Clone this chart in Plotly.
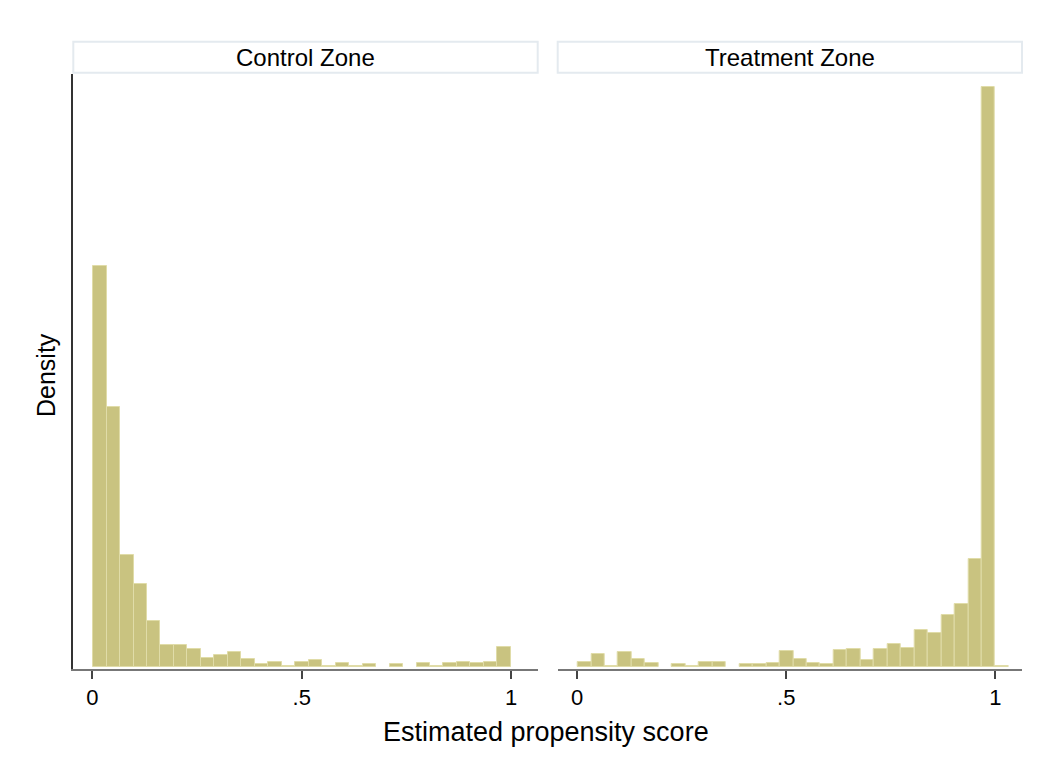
import plotly.graph_objects as go

# Histogram bins (common to both panels)
bin_start = 0.0015
bin_width = 0.0322
n_bins = 32

panels = ["Control Zone", "Treatment Zone"]

control_density = [11.52, 7.47, 3.23, 2.38, 1.31, 0.64, 0.64, 0.53, 0.26, 0.35,
                   0.43, 0.22, 0.09, 0.14, 0.03, 0.14, 0.20, 0.03, 0.11, 0.03,
                   0.09, 0.00, 0.09, 0.00, 0.11, 0.03, 0.11, 0.14, 0.11, 0.14,
                   0.57, 0.00]

treatment_density = [0.14, 0.36, 0.03, 0.42, 0.23, 0.11, 0.00, 0.09, 0.03, 0.14,
                     0.14, 0.00, 0.09, 0.09, 0.11, 0.45, 0.23, 0.12, 0.08, 0.48,
                     0.53, 0.21, 0.53, 0.65, 0.55, 1.07, 0.99, 1.49, 1.82, 3.11,
                     16.66, 0.03]

tick_vals = [0, 0.5, 1]
tick_text = ["0", ".5", "1"]

x_title = "Estimated propensity score"
y_title = "Density"

centers = [bin_start + (i + 0.5) * bin_width for i in range(n_bins)]

FILL = "rgb(201,195,128)"
EDGE = "rgb(224,220,168)"
FONT = "Liberation Sans, Arial, sans-serif"

fig = go.Figure()
for k, dens in enumerate([control_density, treatment_density]):
    fig.add_trace(go.Bar(
        x=centers, y=dens, width=[bin_width] * n_bins,
        marker=dict(color=FILL,
                    line=dict(color=EDGE, width=[1 if d > 0 else 0 for d in dens])),
        xaxis="x" if k == 0 else "x2", yaxis="y" if k == 0 else "y2",
        showlegend=False, hoverinfo="x+y",
    ))

OFF = 8  # page body margin
W, H = 1047 - OFF, 768 - OFF
L, T = 73 - OFF, 74 - OFF
plot_w = 1022 - 73
plot_h = 669 - 74
R = W - L - plot_w
B = H - T - plot_h
left_dom = [0, (537.7 - 73) / plot_w]
right_dom = [(557.7 - 73) / plot_w, 1]

xr = [-0.0465, 1.0638]
yr = [-0.057, 17.04]

axis_common = dict(range=xr, tickvals=tick_vals, ticktext=tick_text,
                   ticks="outside", ticklen=8, tickwidth=1.5, tickcolor="#444",
                   showline=True, linecolor="#777", linewidth=2,
                   showgrid=False, zeroline=False,
                   tickfont=dict(family=FONT, size=22, color="#000"))

fig.update_layout(
    width=W, height=H,
    margin=dict(l=L, r=R, t=T, b=B),
    paper_bgcolor="white", plot_bgcolor="white",
    bargap=0,
    xaxis=dict(domain=left_dom, anchor="y", **axis_common),
    xaxis2=dict(domain=right_dom, anchor="y2", **axis_common),
    yaxis=dict(range=yr, domain=[0, 1], anchor="x", showticklabels=False,
               ticks="", showgrid=False, zeroline=False,
               showline=True, linecolor="#333", linewidth=2),
    yaxis2=dict(range=yr, domain=[0, 1], anchor="x2", showticklabels=False,
                ticks="", showgrid=False, zeroline=False, showline=False),
)

def py(ypix):
    return (669 - ypix) / plot_h

def px(xpix):
    return (xpix - 73) / plot_w

shapes = []
annotations = []
strip_x = [(73.3, 537.7), (557.7, 1022)]
for (x0, x1), name in zip(strip_x, panels):
    shapes.append(dict(type="rect", xref="paper", yref="paper",
                       x0=px(x0), x1=px(x1), y0=py(72.7), y1=py(41.7),
                       line=dict(color="#e4eaef", width=2), fillcolor="white"))
    annotations.append(dict(text=name, xref="paper", yref="paper",
                            x=px((x0 + x1) / 2), y=py(57), showarrow=False,
                            xanchor="center", yanchor="middle",
                            font=dict(family=FONT, size=24, color="#000")))

annotations.append(dict(text=x_title, xref="paper", yref="paper",
                        x=px(546), y=py(732), showarrow=False,
                        xanchor="center", yanchor="middle",
                        font=dict(family=FONT, size=27, color="#000")))
annotations.append(dict(text=y_title, xref="paper", yref="paper",
                        x=px(46), y=py(375), showarrow=False, textangle=-90,
                        xanchor="center", yanchor="middle",
                        font=dict(family=FONT, size=25, color="#000")))

fig.update_layout(shapes=shapes, annotations=annotations)

fig.write_html("out.html")
